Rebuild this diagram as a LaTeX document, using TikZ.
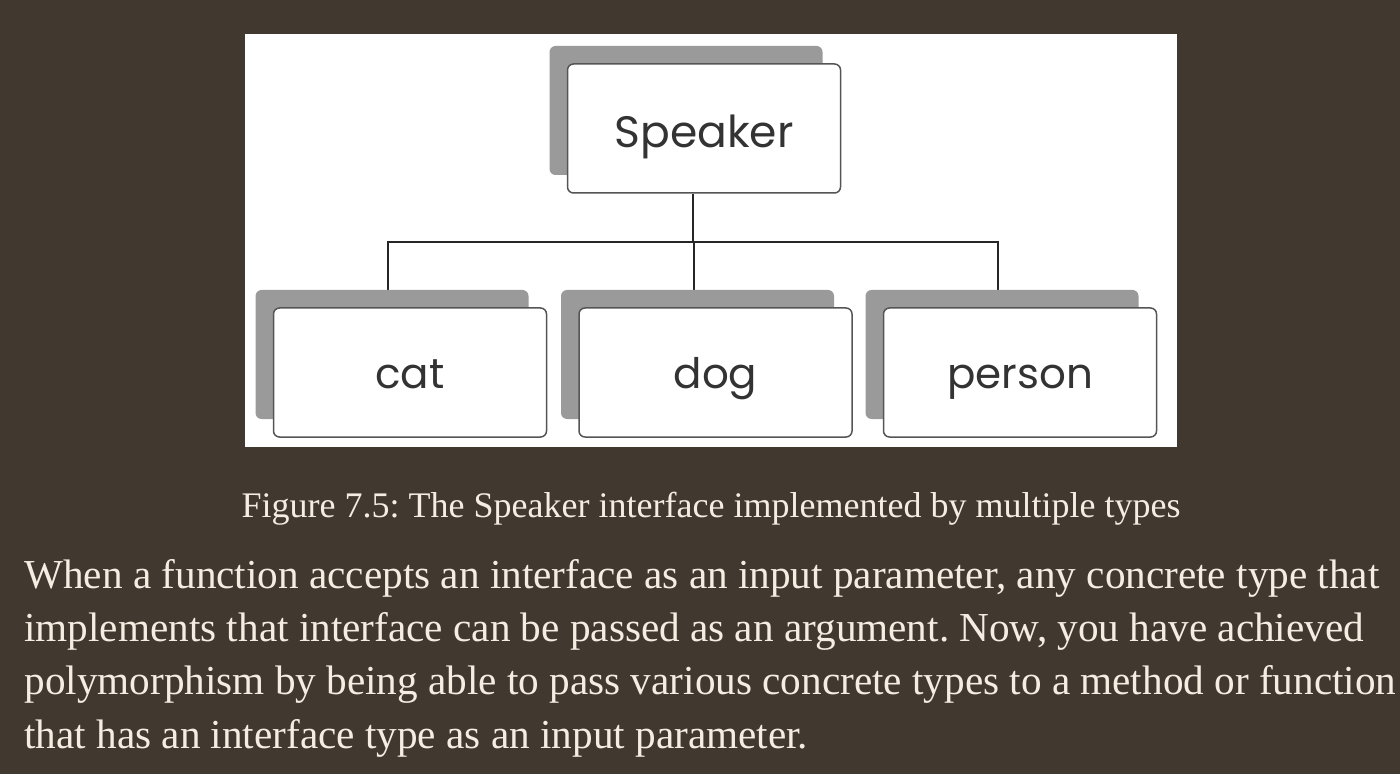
\documentclass[tikz,border=0pt]{standalone}
\usepackage{fontspec}
\setmainfont{Liberation Serif}
\newfontfamily\boxfont{Poppins}
\usepackage{tikz}
\usetikzlibrary{positioning, calc, shadows}

\definecolor{pagebg}{HTML}{41382F}
\definecolor{pagetext}{HTML}{F5EDE2}
\definecolor{boxline}{HTML}{555555}
\definecolor{boxshade}{HTML}{9A9A9A}
\definecolor{labeltext}{HTML}{333333}

\pgfdeclarelayer{back}
\pgfdeclarelayer{mid}
\pgfsetlayers{back,mid,main}

\begin{document}
\frenchspacing
\begin{tikzpicture}[x=0.5pt, y=-0.5pt, line join=round,
    typebox/.style={draw=boxline, line width=0.75pt, fill=white, rounded corners=3pt,
        minimum width=136.5pt, minimum height=64.5pt, inner sep=0pt,
        text height=17pt, text depth=1.5pt,
        font=\boxfont\fontsize{21}{24}\selectfont, text=labeltext,
        general shadow={fill=boxshade, shadow xshift=-9pt, shadow yshift=9pt}},
    wire/.style={line width=1pt, draw=black!85}]
    \useasboundingbox (0,0) rectangle (1400,774);
    \begin{pgfonlayer}{back}
        \fill[pagebg] (0,0) rectangle (1400,774);
        \fill[white] (245,34) rectangle (1177,447);
    \end{pgfonlayer}

    % interface and the types below it
    \node[typebox, text height=20pt, text depth=0.5pt, font=\boxfont\fontsize{22}{24}\selectfont]
        (spk) at (704,128.5) {Speaker};
    \node[typebox] (cat) at (410,372.5) {cat};
    \node[typebox] (dog) at (715.5,372.5) {dog};
    \node[typebox] (person) at (1020,372.5) {person};

    \begin{pgfonlayer}{mid}
        \foreach \kid in {cat, dog, person}
            \draw[wire] ([xshift=-5.5pt]spk.south) -- ++(0,48) -| ([xshift=-11pt]\kid.north);
    \end{pgfonlayer}

    % caption and text
    \node[anchor=base, text=pagetext, font=\fontsize{18}{21}\selectfont] (cap) at (711,517)
        {Figure 7.5: The Speaker interface implemented by multiple types};
    \foreach \n/\txt in {1/{When a function accepts an interface as an input parameter, any concrete type that},
                         2/{implements that interface can be passed as an argument. Now, you have achieved},
                         3/{polymorphism by being able to pass various concrete types to a method or function},
                         4/{that has an interface type as an input parameter.}}
        \node[anchor=base west, inner sep=0pt, text=pagetext, font=\fontsize{20.6}{24}\selectfont]
            (line\n) at (24,{588+53.4*(\n-1)}) {\txt};
\end{tikzpicture}
\end{document}
